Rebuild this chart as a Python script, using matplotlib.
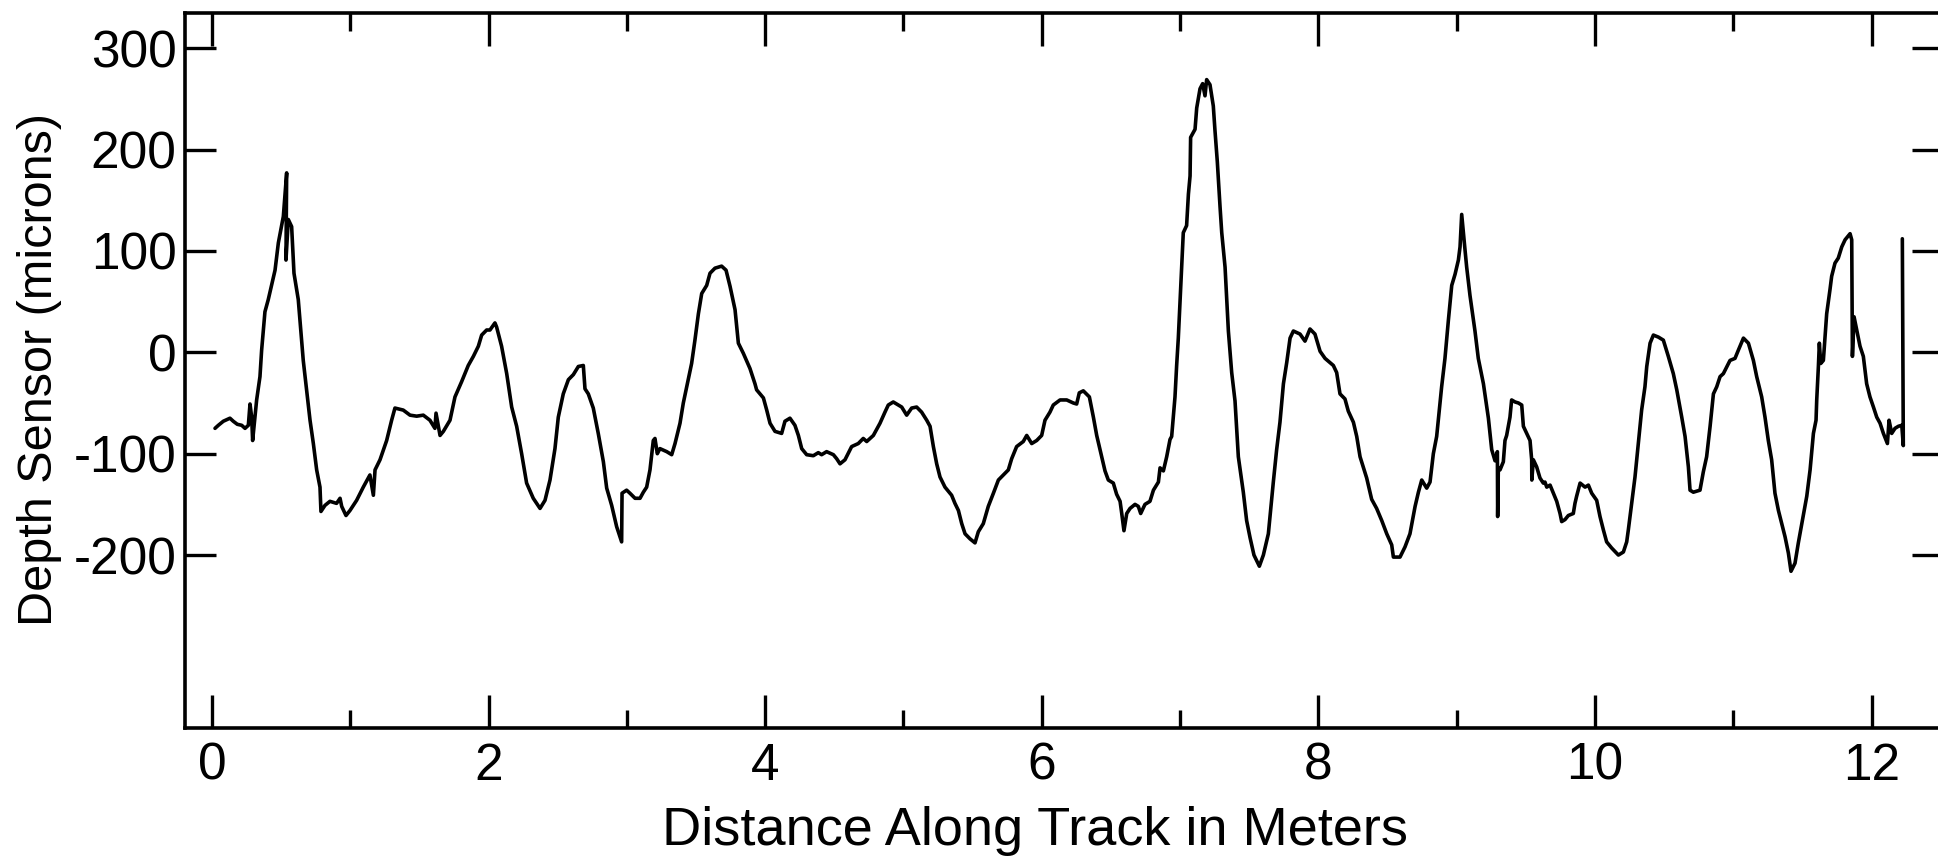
import matplotlib
matplotlib.use("Agg")
import matplotlib.pyplot as plt

plt.rcParams['font.family'] = ['Liberation Sans', 'DejaVu Sans']
plt.rcParams['axes.unicode_minus'] = False

# Distance along track (m) and depth sensor reading (microns)
distance = [
    0.022, 0.046, 0.082, 0.130, 0.154, 0.183, 0.215, 0.239, 0.263, 0.275, 0.287, 0.294,
    0.323, 0.347, 0.359, 0.383, 0.407, 0.456, 0.480, 0.516, 0.540, 0.535, 0.552, 0.576,
    0.593, 0.624, 0.660, 0.684, 0.709, 0.733, 0.757, 0.781, 0.788, 0.817, 0.853, 0.901,
    0.926, 0.938, 0.969, 0.998, 1.046, 1.094, 1.142, 1.167, 1.179, 1.215, 1.263, 1.299,
    1.323, 1.383, 1.432, 1.480, 1.528, 1.576, 1.612, 1.620, 1.649, 1.673, 1.721, 1.757,
    1.805, 1.853, 1.890, 1.926, 1.950, 1.986, 2.010, 2.046, 2.058, 2.094, 2.131, 2.167,
    2.203, 2.239, 2.275, 2.323, 2.372, 2.408, 2.444, 2.480, 2.504, 2.540, 2.577, 2.613,
    2.649, 2.685, 2.697, 2.721, 2.757, 2.793, 2.830, 2.854, 2.890, 2.926, 2.962, 2.965,
    2.998, 3.022, 3.059, 3.095, 3.119, 3.143,
    3.167, 3.191, 3.203, 3.220, 3.239, 3.288, 3.324, 3.348, 3.384, 3.408, 3.437, 3.468,
    3.492, 3.517, 3.541, 3.577, 3.601, 3.637, 3.685, 3.717, 3.746, 3.782, 3.806, 3.842,
    3.890, 3.926, 3.938, 3.987, 4.011, 4.035, 4.071, 4.119, 4.143, 4.179, 4.215, 4.240,
    4.264, 4.300, 4.348, 4.384, 4.408, 4.444, 4.493, 4.517, 4.541, 4.577, 4.625, 4.673,
    4.709, 4.734, 4.782, 4.830, 4.866, 4.890, 4.926, 4.963, 4.987, 5.023, 5.059, 5.095,
    5.131, 5.168, 5.192, 5.216, 5.240, 5.264, 5.300, 5.348, 5.372, 5.397, 5.421, 5.445,
    5.481, 5.517, 5.541, 5.577, 5.613, 5.650, 5.686, 5.722, 5.758, 5.782, 5.818, 5.866,
    5.891, 5.927, 5.963, 5.999, 6.023, 6.059, 6.083, 6.132, 6.180, 6.228, 6.252, 6.271,
    6.300, 6.344, 6.373, 6.397,
    6.421, 6.457, 6.481, 6.517, 6.541, 6.566, 6.578, 6.594, 6.614, 6.638, 6.674, 6.698,
    6.715, 6.746, 6.782, 6.807, 6.843, 6.855, 6.879, 6.903, 6.927, 6.939, 6.963, 6.975,
    6.987, 6.999, 7.011, 7.023, 7.047, 7.060, 7.072, 7.076, 7.108, 7.120, 7.144, 7.163,
    7.180, 7.192, 7.216, 7.240, 7.252, 7.269, 7.289, 7.301, 7.325, 7.349, 7.373, 7.397,
    7.421, 7.457, 7.481, 7.506, 7.534, 7.573, 7.602, 7.638, 7.674, 7.698, 7.722, 7.747,
    7.771, 7.795, 7.819, 7.867, 7.903, 7.939, 7.975, 8.012, 8.048, 8.108, 8.132, 8.156,
    8.192, 8.216, 8.253, 8.277, 8.301, 8.349, 8.385, 8.421, 8.458, 8.494, 8.530, 8.542,
    8.590, 8.626, 8.662, 8.699, 8.723, 8.747, 8.783, 8.807, 8.831, 8.855, 8.891, 8.915,
    8.940, 8.964, 8.988, 9.012, 9.024, 9.036, 9.048, 9.060, 9.072, 9.096, 9.132, 9.156,
    9.193, 9.229, 9.253, 9.277, 9.294, 9.296, 9.301,
    9.313, 9.337, 9.349, 9.361, 9.385, 9.397, 9.422, 9.446, 9.470, 9.482, 9.506, 9.530,
    9.542, 9.543, 9.554, 9.578, 9.602, 9.626, 9.638, 9.651, 9.675, 9.699, 9.723, 9.747,
    9.759, 9.783, 9.807, 9.843, 9.855, 9.867, 9.892, 9.928, 9.952, 9.976, 10.012, 10.036,
    10.060, 10.084, 10.120, 10.169, 10.205, 10.229, 10.241, 10.265, 10.289, 10.313, 10.337, 10.361,
    10.374, 10.398, 10.422, 10.458, 10.494, 10.530, 10.566, 10.591, 10.627, 10.651, 10.675, 10.687,
    10.711, 10.759, 10.783, 10.807, 10.832, 10.856, 10.880, 10.904, 10.928, 10.976, 11.012, 11.036,
    11.073, 11.109, 11.145, 11.169, 11.205, 11.229, 11.253, 11.277, 11.301, 11.326, 11.350, 11.374,
    11.398, 11.417, 11.446, 11.470, 11.495, 11.531, 11.555, 11.579, 11.598, 11.603, 11.615, 11.622,
    11.632, 11.651, 11.663, 11.675, 11.699, 11.711, 11.735, 11.759, 11.784, 11.808, 11.844, 11.856,
    11.861, 11.873, 11.892, 11.916, 11.940, 11.964, 11.988, 12.013, 12.037, 12.061, 12.085, 12.114,
    12.126, 12.145, 12.169, 12.193, 12.218, 12.229, 12.222,
]

depth = [
    -75, -72, -68, -65, -68, -71, -72, -75, -72, -51, -64, -87,
    -47, -24, 2, 40, 52, 81, 108, 134, 177, 91, 131, 124,
    78, 52, -8, -37, -67, -90, -116, -133, -157, -151, -147, -149,
    -144, -152, -161, -156, -146, -133, -121, -141, -116, -106, -87, -67,
    -55, -57, -62, -63, -62, -67, -75, -60, -82, -78, -67, -44,
    -29, -13, -4, 6, 17, 22, 22, 29, 25, 6, -21, -54,
    -73, -100, -129, -144, -154, -146, -126, -95, -64, -41, -27, -22,
    -14, -13, -36, -41, -55, -80, -108, -134, -151, -172, -187, -139,
    -136, -139, -144, -144, -138, -133,
    -116, -87, -85, -100, -95, -98, -101, -90, -70, -50, -31, -11,
    12, 38, 58, 66, 78, 83, 85, 81, 65, 42, 9, -1,
    -16, -31, -37, -45, -57, -70, -78, -80, -68, -65, -72, -82,
    -95, -101, -102, -99, -101, -98, -101, -105, -110, -106, -93, -90,
    -85, -88, -82, -70, -59, -52, -49, -52, -54, -62, -55, -54,
    -59, -67, -73, -93, -110, -123, -133, -141, -149, -156, -169, -179,
    -184, -188, -177, -169, -152, -139, -126, -121, -116, -105, -93, -88,
    -82, -90, -87, -82, -67, -59, -52, -47, -47, -50, -51, -40,
    -38, -44, -64, -82,
    -96, -117, -126, -129, -140, -147, -159, -176, -159, -154, -150, -152,
    -159, -150, -147, -136, -128, -114, -117, -103, -86, -83, -44, -13,
    14, 49, 84, 118, 125, 156, 174, 212, 220, 241, 260, 265,
    253, 269, 264, 243, 219, 188, 143, 118, 84, 21, -20, -48,
    -103, -138, -166, -183, -200, -211, -200, -179, -128, -96, -69, -31,
    -10, 14, 21, 18, 11, 23, 18, 1, -6, -13, -20, -41,
    -46, -58, -69, -83, -103, -124, -145, -154, -166, -179, -190, -202,
    -202, -192, -179, -152, -138, -126, -134, -128, -100, -83, -34, -6,
    32, 66, 77, 91, 104, 136, 118, 101, 84, 56, 21, -6,
    -31, -65, -96, -107, -98, -162, -114,
    -116, -108, -87, -82, -64, -47, -49, -50, -52, -73, -80, -87,
    -106, -126, -106, -113, -124, -129, -128, -133, -131, -139, -147, -159,
    -167, -165, -161, -159, -149, -142, -129, -133, -131, -139, -146, -162,
    -175, -187, -193, -200, -197, -187, -175, -149, -123, -90, -57, -34,
    -14, 9, 17, 15, 12, -4, -21, -37, -64, -83, -113, -136,
    -138, -136, -118, -103, -73, -41, -34, -24, -21, -8, -6, 2,
    14, 9, -8, -24, -44, -64, -87, -106, -139, -156, -169, -182,
    -198, -216, -208, -188, -169, -142, -116, -80, -67, -47, -14, 9,
    -11, -8, 15, 38, 62, 75, 88, 93, 104, 111, 117, 111,
    -4, 35, 22, 6, -4, -31, -44, -54, -64, -70, -80, -90,
    -67, -80, -75, -73, -72, -92, 112,
]

x_major = [0, 2, 4, 6, 8, 10, 12]
x_minor = [1, 3, 5, 7, 9, 11]
x_labels = ["0", "2", "4", "6", "8", "10", "12"]
y_ticks = [-200, -100, 0, 100, 200, 300]
y_labels = ["-200", "-100", "0", "100", "200", "300"]

fig = plt.figure(figsize=(19.38, 8.59), dpi=100)
ax = fig.add_axes([0.09546, 0.15250, 0.90712, 0.83236])

ax.plot(distance, depth, color="black", lw=2.6, solid_joinstyle="round",
        solid_capstyle="round")

ax.set_xlim(-0.195, 12.516)
ax.set_ylim(-370.6, 334.7)

ax.set_xticks(x_major)
ax.set_xticklabels(x_labels)
ax.set_xticks(x_minor, minor=True)
ax.set_yticks(y_ticks)
ax.set_yticklabels(y_labels)

for side in ["left", "bottom", "top", "right"]:
    ax.spines[side].set_linewidth(2.6)
    ax.spines[side].set_color("black")

ax.tick_params(axis="both", which="both", direction="in", top=True, right=True,
               labeltop=False, labelright=False, width=2.4, color="black")
ax.tick_params(axis="x", which="major", length=23.5, pad=10, labelsize=37)
ax.tick_params(axis="x", which="minor", length=13)
ax.tick_params(axis="y", which="major", length=22, pad=6, labelsize=37)

fig.text(0.534, 0.0163, "Distance Along Track in Meters", ha="center",
         va="baseline", fontsize=39)
fig.text(0.0268, 0.5704, "Depth Sensor (microns)", rotation=90,
         rotation_mode="anchor", ha="center", va="baseline", fontsize=35)

fig.savefig("out.png", dpi=100)
